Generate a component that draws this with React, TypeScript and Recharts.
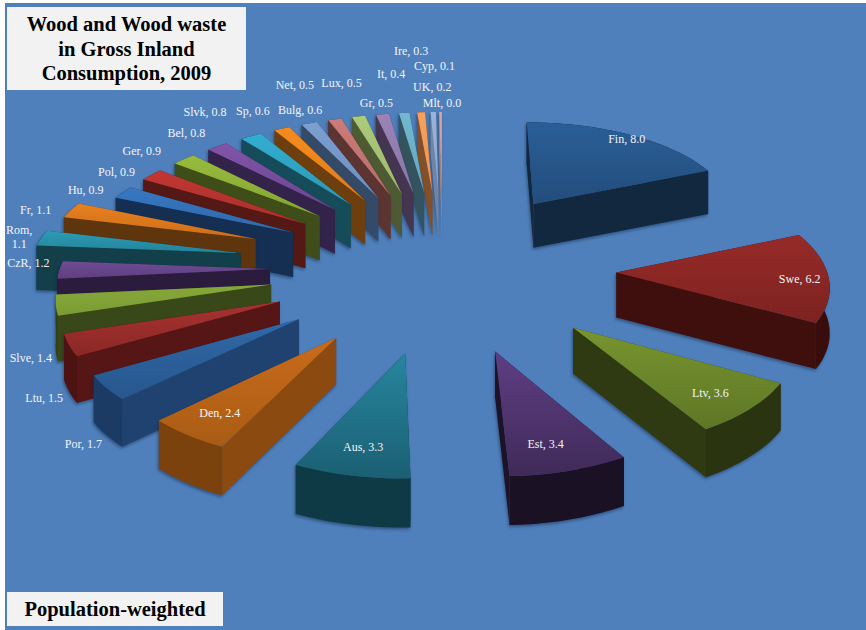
import React from 'react';
import { PieChart, Pie } from 'recharts';

// Wood and wood waste share in gross inland consumption, 2009, population-weighted.
const countries = ['Fin','Swe','Ltv','Est','Aus','Den','Por','Ltu','Slve','CzR','Rom','Fr','Hu','Pol','Ger','Bel','Slvk','Sp','Bulg','Net','Lux','Gr','It','Ire','UK','Cyp','Mlt'];
const shares = [8.0,6.2,3.6,3.4,3.3,2.4,1.7,1.5,1.4,1.2,1.1,1.1,0.9,0.9,0.9,0.8,0.8,0.6,0.6,0.5,0.5,0.5,0.4,0.3,0.2,0.1,0.0];

const topLight = ['#2a5e97','#962b28','#77952f','#5f3e84','#27869f','#c96b1b','#3069a8','#a83230','#86a83a','#6f4c94','#2c9bb5','#e8801f','#3678c3','#c23733','#98bb3d','#8154a8','#33aed0','#f68c20','#7d9fd0','#cb7c79','#adca7b','#9a84b6','#72b9cf','#f9a05e','#9ab3da','#dba3a0','#c4d79b'];
const topDark = ['#234d7c','#7d2220','#5f7626','#3f2a58','#1b5f73','#a95c14','#27568c','#8a2826','#7a9c33','#5e3f80','#258399','#cc6f18','#2f69aa','#a92f2c','#84a434','#6c4590','#2a97b5','#e37b15','#6b8dc0','#b96c69','#9cba69','#8a75a6','#62a6bd','#ee9250','#8ca5cc','#cf9693','#b4c78b'];
const wall = ['#12283f','#3f0f0e','#2f3a13','#1d1329','#10414d','#8a4a10','#1f4270','#551615','#384818','#2b1b3d','#123f4a','#5f350e','#152f52','#541815','#3f4d19','#33234a','#164b59','#6d3f0e','#344a66','#5c3431','#4d5a34','#443551','#33535f','#82502a','#6f85a8','#b0806f','#8a9a6a'];

// Sectors are listed back to front so nearer slices paint over farther ones.
const sliceTable = countries.map((name, i) => ({ name, value: shares[i], order: i })).reverse();

// Rom and Fr sit farther out from the centre than the rest.
const pullOut: Record<string, number> = { Rom: 1.2, Fr: 1.17 };

// Label offsets from the projected middle of each slice's outer edge.
const labelNudge: Record<string, [number, number]> = {
  Fin:[-4,5],Swe:[-29,2],Ltv:[-40,-15],Est:[-24,-25],Aus:[12,-27],Den:[32,-21],Por:[-23,57],Ltu:[-25,54],Slve:[-25,54],
  CzR:[-31,-6],Rom:[-22,-7],Fr:[-35,1],Hu:[-37,-1],Pol:[-35,-2],Ger:[-42,-7],Bel:[-31,-12],Slvk:[-46,-23],Sp:[-29,-16],
  Bulg:[-9,-12],Net:[-40,-33],Lux:[-17,-32],Gr:[-6,-10],It:[-13,-38],Ire:[-10,-60],UK:[-1,-24],Cyp:[-6,-45],Mlt:[-1,-8],
};

const EXPLODE = 173;
const DEPTH = 45;
const TILT = 0.47;
const CAMERA = 2485;

type Pt = [number, number];

function project(cx: number, cy: number, X: number, Z: number, drop: number): Pt {
  const s = 1 / (1 - Z / CAMERA);
  return [cx + X * s, cy + TILT * Z * s + drop * (1 + (s - 1) * 0.5)];
}

const toPath = (pts: Pt[]) => 'M' + pts.map((p) => p[0].toFixed(1) + ',' + p[1].toFixed(1)).join('L') + 'Z';

function Wedge(props: any) {
  const { cx, cy, outerRadius, startAngle, endAngle, payload } = props;
  const order: number = payload.order;
  const name: string = payload.name;
  if (endAngle - startAngle < 0.01) return <g />;
  const rad = Math.PI / 180;
  const mid = ((startAngle + endAngle) / 2) * rad;
  const pull = EXPLODE * (pullOut[name] ?? 1);
  const ax = Math.cos(mid) * pull;
  const az = -Math.sin(mid) * pull;
  const arcWorld: [number, number][] = [];
  const steps = Math.max(4, Math.ceil((endAngle - startAngle) / 3));
  for (let i = 0; i <= steps; i++) {
    const a = (startAngle + ((endAngle - startAngle) * i) / steps) * rad;
    arcWorld.push([ax + Math.cos(a) * outerRadius, az - Math.sin(a) * outerRadius]);
  }
  const top = (w: [number, number]) => project(cx, cy, w[0], w[1], 0);
  const low = (w: [number, number]) => project(cx, cy, w[0], w[1], DEPTH);
  const apex: [number, number] = [ax, az];
  const first = arcWorld[0];
  const last = arcWorld[arcWorld.length - 1];
  const walls = [
    { z: (az + first[1]) / 2, d: toPath([top(apex), top(first), low(first), low(apex)]), shade: 0 },
    { z: (az + last[1]) / 2, d: toPath([top(apex), top(last), low(last), low(apex)]), shade: 0 },
    { z: (first[1] + last[1]) / 2, d: toPath([...arcWorld.map(top), ...arcWorld.slice().reverse().map(low)]), shade: 0.1 },
  ].sort((p, q) => p.z - q.z);
  const gid = 'wedge-top-' + order;
  return (
    <g style={{ filter: 'drop-shadow(-1px 2px 1.5px rgba(15,30,60,0.45))' }}>
      <defs>
        <linearGradient id={gid} x1="0" y1="0" x2="0" y2="1">
          <stop offset="0" stopColor={topLight[order]} />
          <stop offset="1" stopColor={topDark[order]} />
        </linearGradient>
      </defs>
      {walls.map((w, i) => (
        <g key={i}>
          <path d={w.d} fill={wall[order]} />
          {w.shade > 0 && <path d={w.d} fill="#000" fillOpacity={w.shade} />}
        </g>
      ))}
      <path d={toPath([top(apex), ...arcWorld.map(top)])} fill={`url(#${gid})`} />
    </g>
  );
}

function SliceLabel(props: any) {
  const { cx, cy, outerRadius, midAngle, value } = props;
  const name: string = props.name ?? props.payload?.name;
  const amount = Number(value).toFixed(1);
  const reach = EXPLODE * (pullOut[name] ?? 1) + outerRadius;
  const mid = (midAngle * Math.PI) / 180;
  const edge = project(cx, cy, Math.cos(mid) * reach, -Math.sin(mid) * reach, 0);
  const x = edge[0] + labelNudge[name][0];
  const y = edge[1] + labelNudge[name][1];
  const common = { textAnchor: 'middle' as const, fill: '#f2f5fa', fontSize: 12, fontFamily: '"Liberation Serif", serif' };
  if (name === 'Rom') {
    return (
      <text x={x} y={y} {...common} dominantBaseline="middle">
        <tspan x={x}>Rom,</tspan>
        <tspan x={x} dy={14}>{amount}</tspan>
      </text>
    );
  }
  return <text x={x} y={y} {...common} dominantBaseline="middle">{name + ', ' + amount}</text>;
}

const boxText: React.CSSProperties = {
  position: 'absolute',
  background: '#f2f2f2',
  color: '#000',
  fontFamily: '"Liberation Serif", serif',
  fontWeight: 'bold',
  textAlign: 'center',
};

export default function App() {
  return (
    <div style={{ position: 'fixed', left: 0, top: 0, width: 866, height: 630, background: '#fff', overflow: 'hidden' }}>
      <div style={{ position: 'absolute', left: 5, top: 3, width: 861, height: 627, background: '#4f80bc' }} />
      <div style={{ position: 'absolute', left: 0, top: 0 }}>
        <PieChart width={866} height={630} margin={{ top: 0, right: 0, bottom: 0, left: 0 }}>
          <Pie
            data={sliceTable}
            dataKey="value"
            nameKey="name"
            cx={443}
            cy={268}
            innerRadius={0}
            outerRadius={210}
            startAngle={90}
            endAngle={450}
            stroke="none"
            isAnimationActive={false}
            shape={Wedge}
            label={SliceLabel}
            labelLine={false}
          />
        </PieChart>
      </div>
      <div style={{ ...boxText, left: 7, top: 7, width: 239, height: 83, fontSize: 20.5, lineHeight: '24.5px' }}>
        <div style={{ marginTop: 5 }}>Wood and Wood waste</div>
        <div>in Gross Inland</div>
        <div>Consumption, 2009</div>
      </div>
      <div style={{ ...boxText, left: 7, top: 592, width: 216, height: 34, fontSize: 20.5, lineHeight: '34px' }}>
        Population-weighted
      </div>
    </div>
  );
}
